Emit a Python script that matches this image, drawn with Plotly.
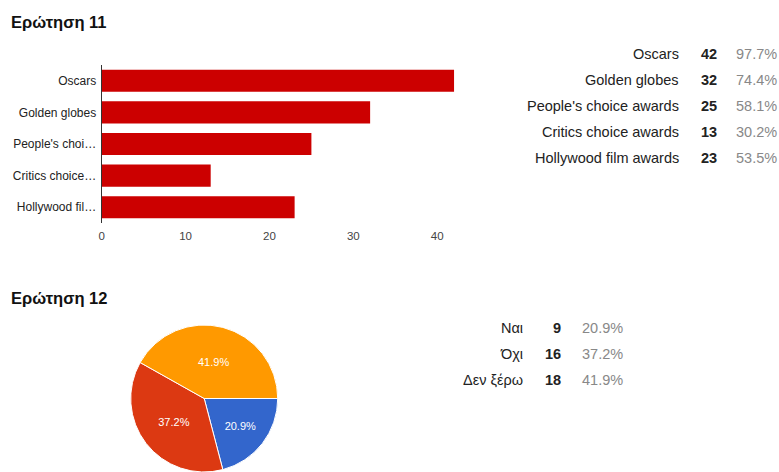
import plotly.graph_objects as go

W, H = 779, 472
FONT = "Arial, Liberation Sans, sans-serif"

# Question 11 data
q11_categories = ["Oscars", "Golden globes", "People's choice awards",
                  "Critics choice awards", "Hollywood film awards"]
q11_tick_labels = ["Oscars", "Golden globes", "People's choi…",
                   "Critics choice…", "Hollywood fil…"]
q11_counts = [42, 32, 25, 13, 23]
q11_percents = ["97.7%", "74.4%", "58.1%", "30.2%", "53.5%"]
q11_xticks = [0, 10, 20, 30, 40]

# Question 12 data
q12_labels = ["Ναι", "Όχι", "Δεν ξέρω"]
q12_counts = [9, 16, 18]
q12_percents = ["20.9%", "37.2%", "41.9%"]
q12_colors = ["#3366cc", "#dc3912", "#ff9900"]


def px_x(p):
    return p / W


def px_y(p):
    return 1 - p / H


fig = go.Figure()

fig.add_trace(go.Bar(
    x=q11_counts, y=q11_categories, orientation="h",
    marker=dict(color="#cc0000", line=dict(width=0)),
    xaxis="x", yaxis="y", showlegend=False, hoverinfo="x+y",
))

fig.add_trace(go.Pie(
    labels=q12_labels, values=q12_counts, sort=False, direction="clockwise",
    rotation=90, marker=dict(colors=q12_colors, line=dict(color="white", width=1)),
    texttemplate="%{percent:.1%}", textposition="inside",
    insidetextorientation="horizontal",
    textfont=dict(color="white", size=11, family=FONT),
    domain=dict(x=[px_x(128), px_x(276)], y=[0, px_y(325)]),
    showlegend=False, hoverinfo="label+value+percent",
))

annotations = []
# titles
for title, ty in (("Ερώτηση 11", 22), ("Ερώτηση 12", 298)):
    annotations.append(dict(text=f"<b>{title}</b>", x=px_x(6), y=px_y(ty),
                            xref="paper", yref="paper", xanchor="left", yanchor="middle",
                            showarrow=False, font=dict(size=16.5, color="#111", family=FONT)))

TSIZE = 14.5
# Q11 table
for i, (c, n, p) in enumerate(zip(q11_categories, q11_counts, q11_percents)):
    yy = px_y(54 + 26 * i)
    annotations.append(dict(text=c, x=px_x(681), y=yy, xref="paper", yref="paper",
                            xanchor="right", yanchor="middle", showarrow=False,
                            font=dict(size=TSIZE, color="#222", family=FONT)))
    annotations.append(dict(text=f"<b>{n}</b>", x=px_x(719), y=yy, xref="paper", yref="paper",
                            xanchor="right", yanchor="middle", showarrow=False,
                            font=dict(size=TSIZE, color="#222", family=FONT)))
    annotations.append(dict(text=p, x=px_x(779), y=yy, xref="paper", yref="paper",
                            xanchor="right", yanchor="middle", showarrow=False,
                            font=dict(size=TSIZE, color="#888", family=FONT)))

# Q12 table
for i, (c, n, p) in enumerate(zip(q12_labels, q12_counts, q12_percents)):
    yy = px_y(328 + 26 * i)
    annotations.append(dict(text=c, x=px_x(524), y=yy, xref="paper", yref="paper",
                            xanchor="right", yanchor="middle", showarrow=False,
                            font=dict(size=TSIZE, color="#222", family=FONT)))
    annotations.append(dict(text=f"<b>{n}</b>", x=px_x(562), y=yy, xref="paper", yref="paper",
                            xanchor="right", yanchor="middle", showarrow=False,
                            font=dict(size=TSIZE, color="#222", family=FONT)))
    annotations.append(dict(text=p, x=px_x(624), y=yy, xref="paper", yref="paper",
                            xanchor="right", yanchor="middle", showarrow=False,
                            font=dict(size=TSIZE, color="#888", family=FONT)))

fig.update_layout(
    width=W, height=H,
    margin=dict(l=0, r=0, t=0, b=0),
    paper_bgcolor="white", plot_bgcolor="white",
    font=dict(family=FONT),
    bargap=0.3,
    xaxis=dict(domain=[px_x(99), px_x(457)], range=[0, 42.5], tickvals=q11_xticks,
               showgrid=False, zeroline=False, showline=False, ticks="",
               ticklabelstandoff=4,
               tickfont=dict(size=11.5, color="#444", family=FONT), fixedrange=True),
    yaxis=dict(domain=[px_y(223), px_y(65)], range=[4.5, -0.5],
               tickvals=q11_categories, ticktext=q11_tick_labels,
               showgrid=False, zeroline=False, showline=True, linecolor="#333",
               linewidth=1, ticks="", ticklabelstandoff=2,
               tickfont=dict(size=12, color="#222", family=FONT), fixedrange=True),
    annotations=annotations,
)

fig.write_html("out.html")
